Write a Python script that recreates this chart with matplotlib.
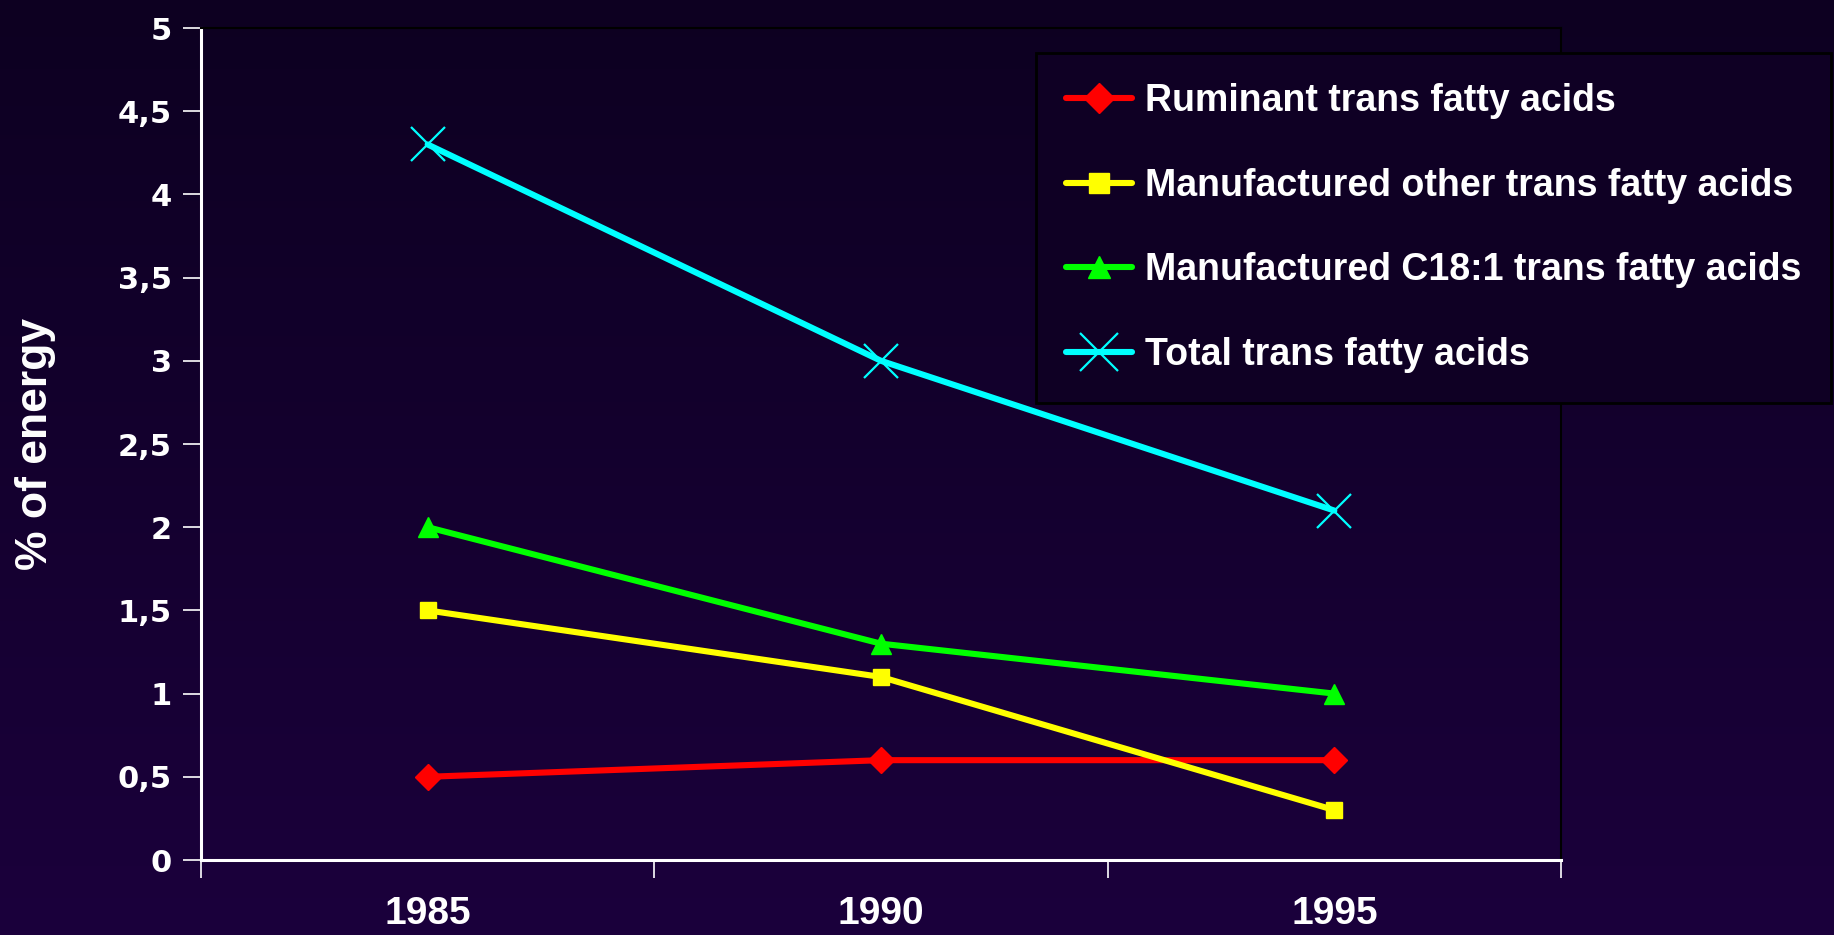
import matplotlib

matplotlib.use("Agg")
import matplotlib.pyplot as plt
import numpy as np
from matplotlib.colors import LinearSegmentedColormap
from matplotlib.ticker import FixedLocator, FuncFormatter

years = ["1985", "1990", "1995"]
ruminant = [0.5, 0.6, 0.6]
manufactured_other = [1.5, 1.1, 0.3]
manufactured_c18 = [2.0, 1.3, 1.0]
total = [4.3, 3.0, 2.1]

series = [
    ("Ruminant trans fatty acids", ruminant, "#ff0000", "D", 13, 1.0),
    ("Manufactured other trans fatty acids", manufactured_other, "#ffff00", "s", 12, 1.0),
    ("Manufactured C18:1 trans fatty acids", manufactured_c18, "#00ff00", "^", 14, 1.0),
    ("Total trans fatty acids", total, "#00ffff", "x", 24, 1.6),
]

NARROW = ["Liberation Sans", "DejaVu Sans"]

W, H, DPI = 1834, 935, 100
fig = plt.figure(figsize=(W / DPI, H / DPI), dpi=DPI)

# background: vertical gradient, dark navy at top to purple at bottom
bg = fig.add_axes([0, 0, 1, 1], zorder=-10)
cmap = LinearSegmentedColormap.from_list("bg", ["#1b003c", "#0d0021"])
bg.imshow(np.linspace(0, 1, 256).reshape(-1, 1), aspect="auto", cmap=cmap,
          extent=[0, 1, 0, 1], origin="lower")
bg.axis("off")

ax = fig.add_axes([201 / W, 75 / H, 1360 / W, 832 / H])
ax.set_facecolor("none")

x = np.arange(len(years))
for label, vals, color, marker, ms, mew in series:
    ax.plot(x, vals, color=color, lw=4.4, marker=marker, markersize=ms,
            markeredgewidth=mew, markeredgecolor=color, markerfacecolor=color,
            label=label, solid_capstyle="round")

ax.set_xlim(-0.5, 2.5)
ax.set_ylim(0, 5)
ax.yaxis.set_major_locator(FixedLocator(np.arange(0, 5.01, 0.5)))
ax.yaxis.set_major_formatter(FuncFormatter(lambda v, p: f"{v:g}".replace(".", ",")))

ax.set_xticks(x)
ax.set_xticklabels(years)
ax.xaxis.set_minor_locator(FixedLocator([-0.5, 0.5, 1.5, 2.5]))
ax.tick_params(axis="x", which="major", length=0, pad=26, colors="white")
ax.tick_params(axis="x", which="minor", length=13, width=1.2, color="white", direction="out")
ax.tick_params(axis="y", length=13, width=1.2, color="white", direction="out", pad=8)

for lab in ax.get_xticklabels():
    lab.set_family(NARROW)
    lab.set_fontweight("bold")
    lab.set_fontsize(28)
    lab.set_color("white")
for lab in ax.get_yticklabels():
    lab.set_family(["DejaVu Sans"])
    lab.set_fontweight("bold")
    lab.set_fontsize(22)
    lab.set_color("white")

for side in ("left", "bottom"):
    ax.spines[side].set_color("white")
    ax.spines[side].set_linewidth(2.2)
for side in ("top", "right"):
    ax.spines[side].set_color("black")
    ax.spines[side].set_linewidth(1.5)

ax.set_ylabel("% of energy", color="white", fontsize=32, fontweight="bold",
              family=NARROW)
ax.yaxis.set_label_coords(-145 / 1360, 0.5)

leg = fig.legend(loc="upper left", bbox_to_anchor=(1036 / W, 1 - 53 / H),
                 borderaxespad=0, frameon=True, fancybox=False, edgecolor="black",
                 facecolor="#0f0024", framealpha=1, handlelength=1.75,
                 handletextpad=0.35, labelspacing=1.3, borderpad=0.8,
                 markerscale=1.15,
                 prop={"family": NARROW, "weight": "bold", "size": 27})
leg.get_frame().set_linewidth(2)
for t in leg.get_texts():
    t.set_color("white")

fig.savefig("out.png", dpi=DPI)
